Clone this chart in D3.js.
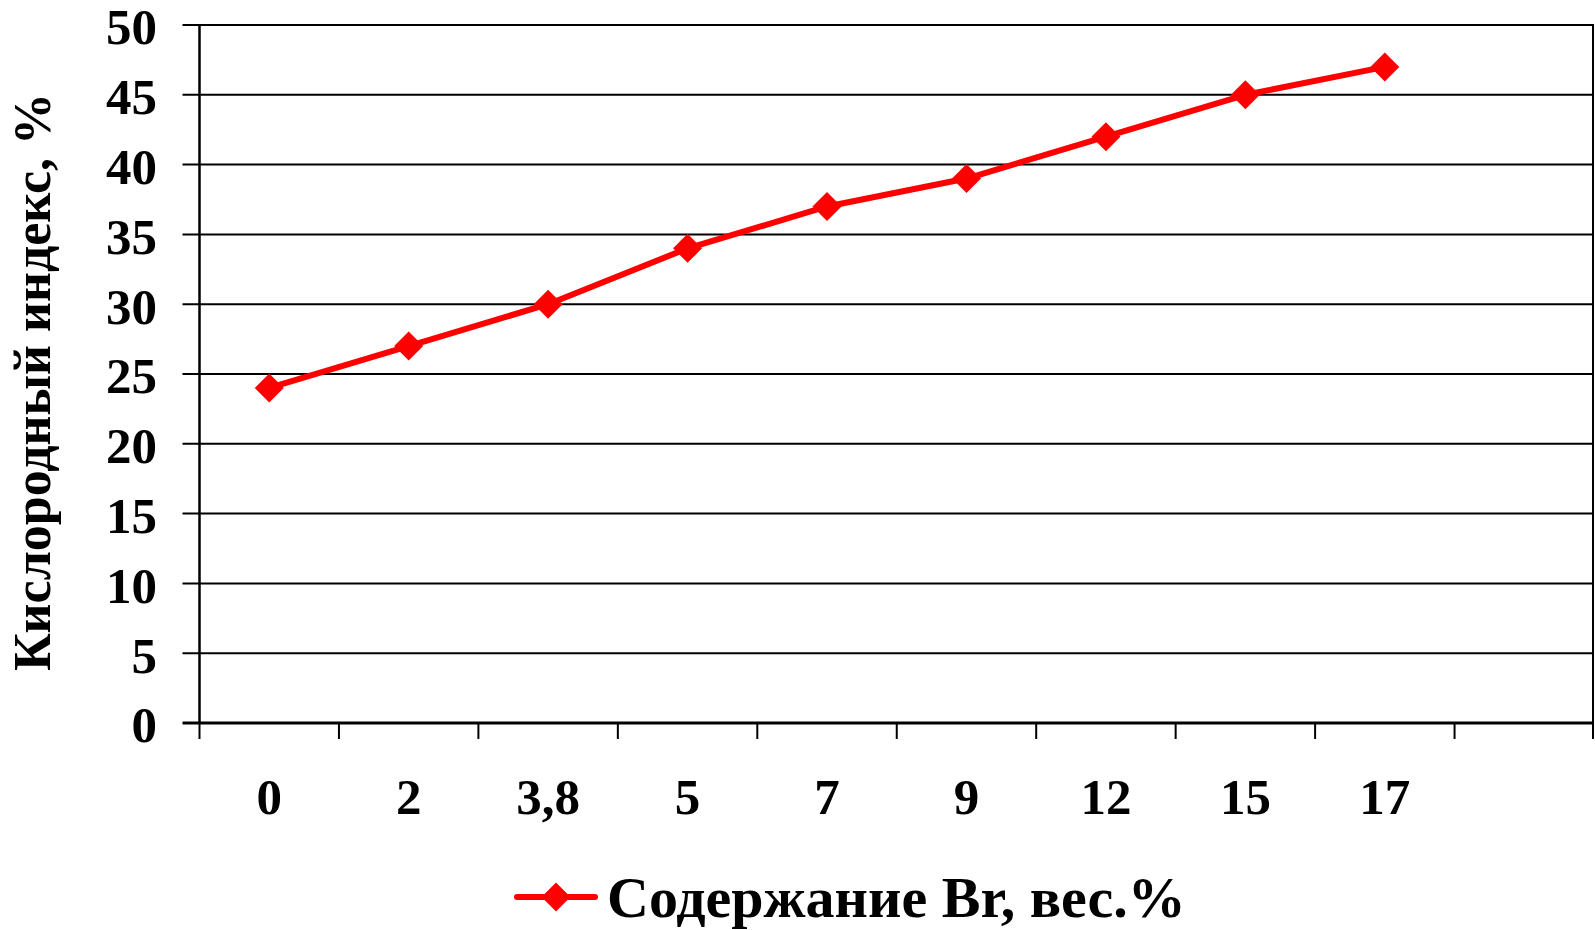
<!DOCTYPE html>
<html>
<head>
<meta charset="utf-8">
<script src="https://cdn.jsdelivr.net/npm/d3@7"></script>
<style>
  html, body { margin: 0; padding: 0; background: #fff; }
  svg { display: block; font-family: "Liberation Serif", "Times New Roman", serif; font-weight: bold; }
</style>
</head>
<body>
<div id="chart"></div>
<script>
// categories on x (Br content, wt.%) plus one empty slot at the end, like the original
const categories = ["0", "2", "3,8", "5", "7", "9", "12", "15", "17"];
const emptySlots = [""];
const oxygenIndex = [24, 27, 30, 34, 37, 39, 42, 45, 47];
const yTicks = [0, 5, 10, 15, 20, 25, 30, 35, 40, 45, 50];
const seriesName = "Содержание Br, вес.%";
const yTitle = "Кислородный индекс, %";

const width = 1595;
const height = 930;
const margin = { top: 25, right: 1, bottom: 207, left: 199.5 };
const red = "#ff0000";

const svg = d3.select("#chart").append("svg")
  .attr("width", width)
  .attr("height", height);

const x = d3.scaleBand()
  .domain(categories.concat(emptySlots).map((d, i) => i))
  .range([margin.left, width - margin.right])
  .padding(0);

const y = d3.scaleLinear()
  .domain([0, 50])
  .range([height - margin.bottom, margin.top]);

const plotLeft = margin.left;
const plotRight = width - margin.right;

// horizontal gridlines + y ticks
svg.append("g")
  .selectAll("line")
  .data(yTicks)
  .join("line")
  .attr("x1", plotLeft - 17)
  .attr("x2", plotRight)
  .attr("y1", (d) => y(d))
  .attr("y2", (d) => y(d))
  .attr("stroke", "#000")
  .attr("stroke-width", (d) => (d === 0 ? 3 : 2));

// y axis line and right border
svg.append("line")
  .attr("x1", plotLeft).attr("x2", plotLeft)
  .attr("y1", y(50)).attr("y2", y(0))
  .attr("stroke", "#000").attr("stroke-width", 2.5);
svg.append("line")
  .attr("x1", plotRight - 1).attr("x2", plotRight - 1)
  .attr("y1", y(50)).attr("y2", y(0))
  .attr("stroke", "#000").attr("stroke-width", 2);

// x ticks at band boundaries
const boundaries = x.domain().map((i) => x(i)).concat([plotRight - 1]);
svg.append("g")
  .selectAll("line")
  .data(boundaries)
  .join("line")
  .attr("x1", (d) => d).attr("x2", (d) => d)
  .attr("y1", y(0)).attr("y2", y(0) + 16)
  .attr("stroke", "#000").attr("stroke-width", 2);

// y tick labels
svg.append("g")
  .selectAll("text")
  .data(yTicks)
  .join("text")
  .attr("x", 157)
  .attr("y", (d) => y(d))
  .attr("dy", "0.38em")
  .attr("text-anchor", "end")
  .attr("font-size", 51)
  .text((d) => d);

// x tick labels
svg.append("g")
  .selectAll("text")
  .data(categories)
  .join("text")
  .attr("x", (d, i) => x(i) + x.bandwidth() / 2)
  .attr("y", 814)
  .attr("text-anchor", "middle")
  .attr("font-size", 51)
  .text((d) => d);

// y axis title
svg.append("text")
  .attr("transform", `translate(50,${(y(0) + y(50)) / 2 + 8}) rotate(-90)`)
  .attr("text-anchor", "middle")
  .attr("font-size", 52)
  .text(yTitle);

// series line
const line = d3.line()
  .x((d, i) => x(i) + x.bandwidth() / 2)
  .y((d) => y(d));

svg.append("path")
  .datum(oxygenIndex)
  .attr("d", line)
  .attr("fill", "none")
  .attr("stroke", red)
  .attr("stroke-width", 6)
  .attr("stroke-linejoin", "round");

const diamond = (r) => `M0,${-r}L${r},0L0,${r}L${-r},0Z`;

svg.append("g")
  .selectAll("path")
  .data(oxygenIndex)
  .join("path")
  .attr("transform", (d, i) => `translate(${x(i) + x.bandwidth() / 2},${y(d)})`)
  .attr("d", diamond(14.5))
  .attr("fill", red);

// legend
const legend = svg.append("g").attr("transform", "translate(517,897)");
legend.append("line")
  .attr("x1", 0).attr("x2", 78)
  .attr("stroke", red).attr("stroke-width", 6)
  .attr("stroke-linecap", "round");
legend.append("path")
  .attr("transform", "translate(39,0)")
  .attr("d", diamond(14.5))
  .attr("fill", red);
legend.append("text")
  .attr("x", 90)
  .attr("y", 20)
  .attr("font-size", 58)
  .text(seriesName);
</script>
</body>
</html>
